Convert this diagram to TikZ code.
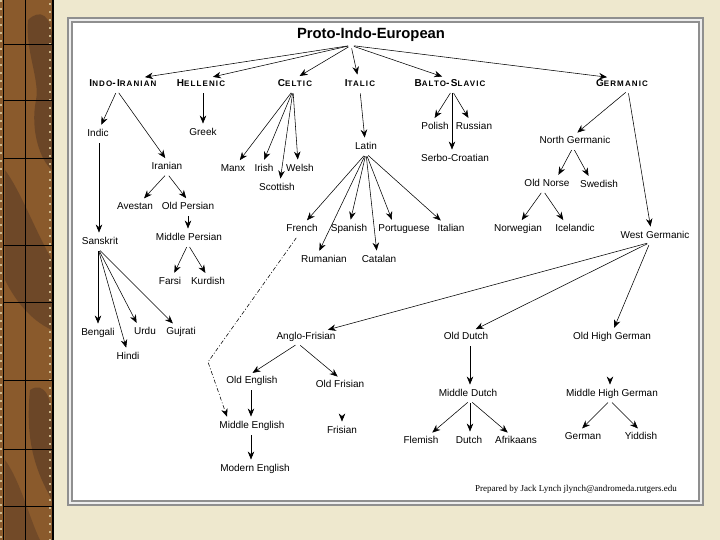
\documentclass[tikz,border=0pt]{standalone}
\usepackage{fontspec}
\setmainfont{Liberation Sans}
\newfontfamily\serfam{Liberation Serif}
\newfontfamily\headfam[LetterSpace=14]{Liberation Sans}
\usetikzlibrary{arrows.meta}
\definecolor{colWood}{HTML}{8A5A2C}
\definecolor{colWoodDk}{HTML}{4E3424}
\definecolor{colPaper}{HTML}{EEE8CE}
\definecolor{colFrame}{HTML}{8F8F8F}
\definecolor{colGap}{HTML}{EDEDED}
\definecolor{colTan}{HTML}{CDB98E}
\def\titfont{\fontsize{14.8pt}{17pt}\selectfont\bfseries}
\def\labfont{\fontsize{10pt}{12pt}\selectfont}
\def\hdfont{\headfam\bfseries\fontsize{10pt}{12pt}\selectfont}
\def\footfont{\serfam\fontsize{9pt}{11pt}\selectfont}
% small-caps heading: big initial, smaller rest
\newcommand{\brh}[2]{#1{\fontsize{8pt}{10pt}\selectfont #2}}
% parent -> child, with x shifts at both ends
\newcommand{\lnk}[4]{%
  \draw[arr] ([xshift=#2pt]#1.south) -- ([xshift=#4pt]#3.north);}
\tikzset{
  lang/.style={font=\labfont, inner sep=1.5pt, text height=7.5pt, text depth=2pt},
  branch/.style={font=\hdfont, inner sep=1.5pt, text height=7.5pt, text depth=2pt},
  arr/.style={-{Stealth[length=8pt,width=6.5pt]}, line width=0.55pt,
    shorten >=3pt, shorten <=3pt},
  infl/.style={arr, dash pattern=on 4pt off 2pt on 1pt off 2pt}
}

\begin{document}
\begin{tikzpicture}[x=1pt,y=-1pt]
\useasboundingbox (0,0) rectangle (720,540);
% ===================== BACKGROUND =====================
\fill[colPaper] (0,0) rectangle (720,540);
\fill[colWood] (0,0) rectangle (54,540);
\fill[colWoodDk, opacity=0.5] (28,20) .. controls (40,8) and (52,15) .. (52,40)
  -- (52,170) .. controls (40,160) and (30,130) .. (36,100)
  .. controls (40,80) and (25,50) .. (28,20) -- cycle;
\fill[colWoodDk, opacity=0.45] (5,170) .. controls (20,190) and (35,230) .. (52,260)
  -- (52,330) .. controls (30,320) and (15,300) .. (5,280) -- cycle;
\fill[colWoodDk, opacity=0.5] (30,390) .. controls (45,380) and (52,400) .. (52,420)
  -- (52,500) .. controls (35,470) and (25,440) .. (30,390) -- cycle;
\fill[colWoodDk, opacity=0.4] (5,460) .. controls (20,480) and (30,520) .. (40,540)
  -- (5,540) -- cycle;
\draw[colTan, line width=2pt, dash pattern=on 2pt off 6pt] (1,0) -- (1,540);
\draw[colTan, line width=2pt, dash pattern=on 2pt off 6pt] (50,3) -- (50,540);
\draw[black, line width=1pt] (3.5,0) -- (3.5,540);
\draw[black, line width=0.8pt] (25,0) -- (25,540);
\draw[black, line width=2pt] (53,0) -- (53,540);
\draw[black, line width=0.8pt] (3.5,44) -- (53,44);
\draw[black, line width=0.8pt] (3.5,100) -- (53,100);
\draw[black, line width=0.8pt] (3.5,158) -- (53,158);
\draw[black, line width=0.8pt] (3.5,245) -- (53,245);
\draw[black, line width=0.8pt] (3.5,302) -- (53,302);
\draw[black, line width=0.8pt] (3.5,380) -- (53,380);
\draw[black, line width=0.8pt] (3.5,449) -- (53,449);
\draw[black, line width=0.8pt] (3.5,506) -- (53,506);

\draw[colFrame, line width=1.4pt, fill=colGap] (68,18) rectangle (703,505);
\draw[colFrame, line width=1.2pt, fill=white] (72,22) rectangle (699,501);

% ===================== NODES =====================
\node[font=\titfont] (pie) at (371,35) {Proto-Indo-European};

\node[branch] (indoir) at (123,84) {\brh{I}{NDO}-\brh{I}{RANIAN}};
\node[branch] (hell)   at (201,84) {\brh{H}{ELLENIC}};
\node[branch] (celt)   at (295,84) {\brh{C}{ELTIC}};
\node[branch] (ital)   at (360,84) {\brh{I}{TALIC}};
\node[branch] (balto)  at (450,84) {\brh{B}{ALTO}-\brh{S}{LAVIC}};
\node[branch] (germ)   at (622,84) {\brh{G}{ERMANIC}};

\node[lang] (indic)    at (98,134)  {Indic};
\node[lang] (greek)    at (203,133) {Greek};
\node[lang] (latin)    at (366,147) {Latin};
\node[lang] (polish)   at (435,127) {Polish};
\node[lang] (russian)  at (474,127) {Russian};
\node[lang] (serbo)    at (455,159) {Serbo-Croatian};
\node[lang] (northg)   at (575,141) {North Germanic};

\node[lang] (iranian)  at (167,167) {Iranian};
\node[lang] (manx)     at (233,169) {Manx};
\node[lang] (irish)    at (264,169) {Irish};
\node[lang] (welsh)    at (300,169) {Welsh};
\node[lang] (scottish) at (277,188) {Scottish};
\node[lang] (oldnorse) at (547,184) {Old Norse};
\node[lang] (swedish)  at (599,185) {Swedish};

\node[lang] (avestan)  at (135,207) {Avestan};
\node[lang] (oldpers)  at (188,207) {Old Persian};
\node[lang] (french)   at (302,229) {French};
\node[lang] (spanish)  at (349,229) {Spanish};
\node[lang] (portug)   at (404,229) {Portuguese};
\node[lang] (italian)  at (451,229) {Italian};
\node[lang] (norweg)   at (518,229) {Norwegian};
\node[lang] (iceland)  at (575,229) {Icelandic};
\node[lang] (westg)    at (655,236) {West Germanic};

\node[lang] (sanskrit) at (100,242) {Sanskrit};
\node[lang] (midpers)  at (189,238) {Middle Persian};
\node[lang] (rumanian) at (324,260) {Rumanian};
\node[lang] (catalan)  at (379,260) {Catalan};
\node[lang] (farsi)    at (170,282) {Farsi};
\node[lang] (kurdish)  at (208,282) {Kurdish};

\node[lang] (bengali)  at (98,333)  {Bengali};
\node[lang] (urdu)     at (145,332) {Urdu};
\node[lang] (gujrati)  at (181,332) {Gujrati};
\node[lang] (hindi)    at (128,357) {Hindi};

\node[lang] (anglofr)  at (306,337) {Anglo-Frisian};
\node[lang] (olddutch) at (466,337) {Old Dutch};
\node[lang] (ohg)      at (612,337) {Old High German};
\node[lang] (oldeng)   at (252,381) {Old English};
\node[lang] (oldfris)  at (340,385) {Old Frisian};
\node[lang] (mideng)   at (252,426) {Middle English};
\node[lang] (frisian)  at (342,431) {Frisian};
\node[lang] (middutch) at (468,394) {Middle Dutch};
\node[lang] (mhg)      at (612,394) {Middle High German};
\node[lang] (flemish)  at (421,441) {Flemish};
\node[lang] (dutch)    at (469,441) {Dutch};
\node[lang] (afrik)    at (516,441) {Afrikaans};
\node[lang] (german)   at (583,437) {German};
\node[lang] (yiddish)  at (641,437) {Yiddish};
\node[lang] (modeng)   at (255,469) {Modern English};

\node[font=\footfont] (credit) at (576,489)
  {Prepared by Jack Lynch jlynch@andromeda.rutgers.edu};

% ===================== CONNECTORS =====================
\lnk{pie}{-20}{indoir}{19}
\lnk{pie}{-20}{hell}{9}
\lnk{pie}{-20}{celt}{2}
\lnk{pie}{-20}{ital}{-2}
\lnk{pie}{-20}{balto}{-5}
\lnk{pie}{-20}{germ}{-12}

\lnk{indoir}{-6}{indic}{2}
\lnk{indoir}{-6}{iranian}{0}
\lnk{hell}{2}{greek}{0}
\lnk{celt}{-2}{manx}{5}
\lnk{celt}{-2}{irish}{-1}
\lnk{celt}{-2}{scottish}{3}
\lnk{celt}{-2}{welsh}{-2}
\lnk{ital}{0}{latin}{-1}
\lnk{balto}{2}{polish}{-2}
\lnk{balto}{2}{russian}{-4}
\lnk{balto}{2}{serbo}{-3}
\lnk{germ}{6}{northg}{0}
\lnk{germ}{6}{westg}{-4}

\lnk{northg}{-2}{oldnorse}{10}
\lnk{northg}{-2}{swedish}{-9}
\lnk{oldnorse}{-4}{norweg}{2}
\lnk{oldnorse}{-4}{iceland}{-10}

\lnk{indic}{1}{sanskrit}{-1}
\lnk{iranian}{0}{avestan}{7}
\lnk{iranian}{0}{oldpers}{0}
\lnk{oldpers}{0}{midpers}{-1}
\lnk{midpers}{-1}{farsi}{3}
\lnk{midpers}{-1}{kurdish}{-1}
\lnk{sanskrit}{-2}{bengali}{0}
\lnk{sanskrit}{-2}{hindi}{-1}
\lnk{sanskrit}{-2}{urdu}{-7}
\lnk{sanskrit}{-2}{gujrati}{-6}

\lnk{latin}{0}{french}{3}
\lnk{latin}{0}{rumanian}{-6}
\lnk{latin}{0}{spanish}{1}
\lnk{latin}{0}{catalan}{-2}
\lnk{latin}{0}{portug}{-11}
\lnk{latin}{0}{italian}{-8}

\coordinate (bend) at (208,362);
\draw[infl] ([xshift=-4pt]french.south) -- (bend) -- ([xshift=-24pt]mideng.north);

\lnk{westg}{-5}{anglofr}{19}
\lnk{westg}{-5}{olddutch}{7}
\lnk{westg}{-5}{ohg}{1}
\lnk{anglofr}{-8}{oldeng}{-2}
\lnk{anglofr}{-8}{oldfris}{0}
\lnk{oldeng}{-1}{mideng}{-1}
\lnk{mideng}{-1}{modeng}{-4}
\draw[arr, shorten <=0pt] ([yshift=9pt]frisian.north) -- (frisian.north);
\lnk{olddutch}{4}{middutch}{2}
\lnk{middutch}{2}{flemish}{9}
\lnk{middutch}{2}{dutch}{1}
\lnk{middutch}{2}{afrik}{-6}
\draw[arr, shorten <=0pt] ([xshift=-2pt,yshift=9pt]mhg.north) -- ([xshift=-2pt]mhg.north);
\lnk{mhg}{-2}{german}{-3}
\lnk{mhg}{-2}{yiddish}{-1}
\end{tikzpicture}
\end{document}
